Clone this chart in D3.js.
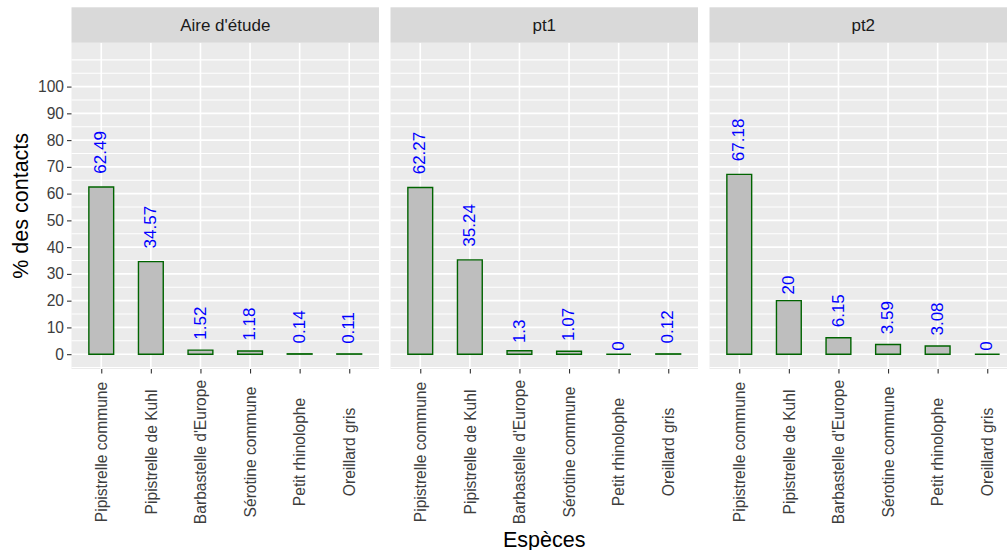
<!DOCTYPE html>
<html><head><meta charset="utf-8">
<script src="https://cdn.jsdelivr.net/npm/d3@7"></script>
<style>body{margin:0;background:#fff;overflow:hidden}text{font-family:"Liberation Sans",Arial,sans-serif}</style>
</head><body>
<svg id="chart" width="1007" height="550"></svg>
<script>
const categories = ["Pipistrelle commune","Pipistrelle de Kuhl","Barbastelle d'Europe","Sérotine commune","Petit rhinolophe","Oreillard gris"];
const panels = ["Aire d'étude","pt1","pt2"];
const aireEtude = [62.49,34.57,1.52,1.18,0.14,0.11];
const pt1 = [62.27,35.24,1.3,1.07,0,0.12];
const pt2 = [67.18,20,6.15,3.59,3.08,0];
const yTicks = [0,10,20,30,40,50,60,70,80,90,100];
const yMinor = [-5,5,15,25,35,45,55,65,75,85,95,105,110];
const seriesByPanel = [aireEtude, pt1, pt2];

const svg = d3.select("#chart");
const panelLefts = [71.5, 390.5, 709.5];
const panelW = 307.5;
const plotTop = 42.7, plotBottom = 369;
const stripTop = 7.3;

const y = d3.scaleLinear().domain([-5.54, 116.4]).range([plotBottom, plotTop]);

panels.forEach((p, pi) => {
  const x0 = panelLefts[pi];
  const x = d3.scalePoint().domain(categories).range([x0, x0 + panelW]).padding(0.6);
  const step = x.step();
  const g = svg.append("g");
  g.append("rect").attr("x", x0).attr("y", plotTop).attr("width", panelW).attr("height", plotBottom - plotTop).attr("fill", "#EBEBEB");
  g.selectAll("line.minor").data(yMinor).enter().append("line")
    .attr("x1", x0).attr("x2", x0 + panelW).attr("y1", d => y(d)).attr("y2", d => y(d))
    .attr("stroke", "#fff").attr("stroke-width", 1.1);
  g.selectAll("line.major").data(yTicks).enter().append("line")
    .attr("x1", x0).attr("x2", x0 + panelW).attr("y1", d => y(d)).attr("y2", d => y(d))
    .attr("stroke", "#fff").attr("stroke-width", 1.6);
  g.selectAll("line.vmajor").data(categories).enter().append("line")
    .attr("x1", d => x(d)).attr("x2", d => x(d)).attr("y1", plotTop).attr("y2", plotBottom)
    .attr("stroke", "#fff").attr("stroke-width", 1.6);
  g.append("rect").attr("x", x0).attr("y", stripTop).attr("width", panelW).attr("height", plotTop - stripTop).attr("fill", "#D9D9D9");
  g.append("text").attr("x", x0 + panelW / 2).attr("y", (stripTop + plotTop) / 2).attr("dy", "0.35em")
    .attr("text-anchor", "middle").attr("font-size", 17).attr("fill", "#1A1A1A").text(p);
  const vals = seriesByPanel[pi];
  const bw = step * 0.5;
  g.selectAll("path.bar").data(vals).enter().append("path")
    .attr("d", (d, i) => {
      const l = x(categories[i]) - bw / 2, r = l + bw, t = y(d), b = y(0);
      return `M${l},${b}L${l},${t}L${r},${t}L${r},${b}Z`;
    })
    .attr("fill", "#BEBEBE").attr("stroke", "#006400").attr("stroke-width", 1.4);
  const fs = 17;
  g.selectAll("text.val").data(vals).enter().append("text")
    .attr("transform", (d, i) => `translate(${x(categories[i])},${y(d)}) rotate(-90)`)
    .attr("font-size", fs).attr("fill", "#0000FF")
    .attr("dy", "0.3em")
    .text(d => String(d))
    .each(function () {
      const w = this.getComputedTextLength();
      d3.select(this).attr("x", 0.3 * w + 0.5);
    });
  const xa = d3.axisBottom(x).tickSize(4.5).tickPadding(3);
  const ax = g.append("g").attr("transform", `translate(0,${plotBottom})`).call(xa);
  ax.select(".domain").remove();
  ax.selectAll(".tick line").attr("stroke", "#333").attr("stroke-width", 1.1);
  ax.selectAll(".tick text")
    .attr("font-size", 15.6).attr("fill", "#3D3D3D")
    .attr("text-anchor", "middle")
    .attr("transform", "translate(0,83) rotate(-90)")
    .attr("x", 0).attr("y", 0).attr("dy", "0.33em");
  if (pi === 0) {
    const ya = d3.axisLeft(y).tickValues(yTicks).tickSize(4.5).tickPadding(3);
    const ay = g.append("g").attr("transform", `translate(${x0},0)`).call(ya);
    ay.select(".domain").remove();
    ay.selectAll(".tick line").attr("stroke", "#333").attr("stroke-width", 1.1);
    ay.selectAll(".tick text").attr("font-size", 15.6).attr("fill", "#3D3D3D");
  }
});

svg.append("text").attr("x", (panelLefts[0] + panelLefts[2] + panelW) / 2).attr("y", 546.5)
  .attr("text-anchor", "middle").attr("font-size", 21.5).attr("fill", "#000").text("Espèces");
svg.append("text").attr("transform", `translate(28,${(plotTop + plotBottom) / 2}) rotate(-90)`)
  .attr("text-anchor", "middle").attr("font-size", 21.5).attr("fill", "#000").text("% des contacts");
</script>
</body></html>
